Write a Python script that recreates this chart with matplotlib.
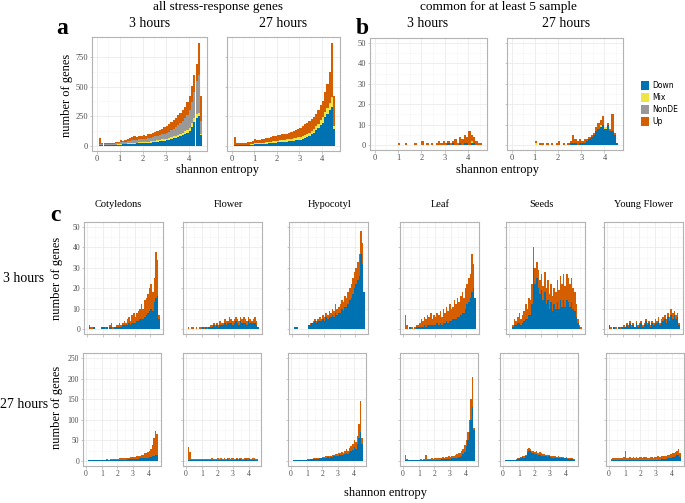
import numpy as np
import matplotlib
matplotlib.use("Agg")
import matplotlib.pyplot as plt
from matplotlib.patches import Patch

plt.rcParams['font.family'] = ['Liberation Serif', 'DejaVu Serif']

# histogram bins: 45 bins of width 0.1 starting at entropy 0.1
bin_lo = 0.1
bin_w = 0.1
n_bins = 45

# ---- panel a: all stress-response genes ----
a3_down = [4, 3, 3, 4, 4, 5, 5, 6, 7, 9, 10, 11, 12, 14, 15,
           17, 18, 19, 20, 21, 22, 24, 26, 28, 30, 33, 36, 39, 42, 45,
           50, 55, 62, 68, 74, 82, 90, 98, 110, 125, 160, 200, 235, 250, 90]
a3_mix = [2, 2, 2, 2, 2, 3, 3, 3, 4, 5, 5, 6, 6, 7, 7,
          8, 8, 8, 9, 9, 9, 10, 10, 11, 11, 12, 12, 13, 14, 14,
          15, 15, 16, 17, 18, 19, 20, 22, 25, 28, 29, 30, 30, 28, 10]
a3_nonde = [10, 6, 6, 6, 7, 7, 8, 9, 10, 14, 14, 16, 18, 20, 22,
            25, 24, 26, 26, 29, 28, 30, 32, 34, 36, 38, 40, 42, 44, 46,
            52, 58, 64, 72, 80, 88, 98, 110, 125, 150, 180, 220, 280, 320, 110]
a3_up = [44, 9, 7, 8, 9, 5, 9, 10, 9, 17, 13, 17, 19, 24, 26,
         30, 25, 29, 25, 29, 26, 31, 32, 32, 38, 37, 42, 46, 55, 60,
         63, 72, 73, 78, 83, 86, 92, 100, 110, 117, 140, 150, 145, 272, 210]

a27_down = [3, 3, 3, 4, 4, 5, 5, 6, 8, 12, 12, 13, 14, 15, 17,
            19, 21, 23, 25, 27, 28, 30, 32, 34, 36, 38, 40, 43, 46, 50,
            55, 62, 72, 82, 95, 110, 130, 150, 175, 195, 240, 270, 300, 330, 140]
a27_mix = [4, 3, 3, 3, 3, 4, 4, 5, 5, 6, 7, 8, 9, 10, 10,
           11, 12, 13, 14, 15, 16, 17, 17, 18, 19, 20, 21, 22, 23, 23,
           24, 25, 26, 28, 29, 31, 33, 36, 40, 43, 45, 50, 60, 85, 30]
a27_nonde = [0, 0, 0, 0, 0, 0, 0, 0, 0, 0, 0, 0, 0, 0, 0,
             0, 0, 0, 0, 0, 0, 0, 0, 0, 0, 0, 0, 0, 0, 0,
             0, 0, 0, 0, 0, 0, 0, 0, 0, 0, 0, 0, 0, 0, 0]
a27_up = [63, 19, 14, 15, 17, 16, 19, 19, 22, 37, 26, 29, 32, 33, 35,
          38, 39, 42, 43, 46, 48, 48, 49, 48, 50, 54, 59, 65, 71, 77,
          86, 93, 97, 100, 101, 104, 102, 114, 125, 142, 165, 200, 260, 455, 250]

# ---- panel b: common for at least 5 samples ----
b3_down = [0, 0, 0, 0, 0, 0, 0, 0, 0, 0, 0, 0, 0, 0, 0,
           0, 0, 0, 0, 0, 0, 0, 0, 0, 0, 0, 0, 0, 0, 0,
           1, 0, 1, 0, 0, 1, 0, 1, 1, 0, 1, 1, 0, 0, 0]
b3_mix = [0, 0, 0, 0, 0, 0, 0, 0, 0, 0, 0, 0, 0, 0, 0,
          0, 0, 0, 0, 0, 0, 0, 0, 0, 0, 0, 0, 0, 0, 0,
          0, 0, 0, 0, 0, 0, 0, 0, 0, 0, 1, 0, 0, 0, 0]
b3_up = [0, 0, 0, 0, 0, 0, 0, 0, 0, 1, 0, 0, 1, 0, 0,
         0, 1, 0, 0, 2, 0, 1, 0, 1, 0, 1, 2, 1, 2, 1,
         1, 1, 1, 3, 1, 3, 3, 4, 3, 7, 3, 3, 2, 1, 1]

b27_down = [0, 0, 0, 0, 0, 0, 0, 0, 0, 0, 0, 0, 0, 0, 0,
            0, 0, 0, 0, 0, 0, 0, 0, 0, 1, 1, 1, 0, 1, 1,
            1, 2, 3, 4, 5, 7, 8, 9, 10, 8, 10, 7, 7, 5, 1]
b27_mix = [0, 0, 0, 0, 0, 0, 0, 0, 0, 1, 0, 0, 0, 0, 0,
           0, 0, 0, 0, 0, 0, 0, 0, 0, 0, 0, 0, 0, 0, 0,
           0, 0, 0, 0, 0, 0, 0, 1, 0, 1, 0, 0, 0, 0, 0]
b27_up = [0, 0, 0, 0, 0, 0, 0, 0, 0, 1, 0, 1, 1, 0, 1,
          0, 1, 0, 1, 2, 0, 1, 0, 1, 1, 4, 2, 2, 2, 1,
          2, 1, 1, 1, 1, 2, 3, 2, 4, 0, 1, 1, 8, 1, 0]

# ---- panel c: per tissue, 3 hours ----
cot3_down = [1, 0, 0, 1, 0, 0, 0, 0, 1, 1, 0, 1, 0, 1, 1,
             0, 1, 1, 1, 1, 1, 2, 2, 2, 2, 3, 2, 3, 3, 3,
             4, 4, 5, 5, 5, 6, 7, 8, 9, 10, 9, 13, 15, 16, 5]
cot3_up = [1, 1, 1, 0, 0, 0, 0, 0, 0, 0, 1, 0, 0, 1, 2,
           1, 0, 1, 1, 2, 1, 1, 2, 1, 3, 3, 2, 4, 5, 3,
           4, 5, 5, 7, 5, 8, 8, 9, 11, 12, 9, 12, 23, 18, 2]
fl3_down = [0, 0, 0, 0, 0, 0, 0, 0, 0, 1, 0, 1, 0, 1, 1,
            1, 2, 1, 2, 1, 2, 2, 2, 3, 2, 3, 3, 3, 2, 3,
            4, 3, 2, 4, 3, 3, 3, 2, 4, 3, 3, 3, 3, 2, 1]
fl3_up = [1, 0, 1, 1, 0, 1, 0, 1, 1, 0, 1, 0, 1, 0, 1,
          1, 1, 1, 1, 1, 2, 1, 1, 2, 2, 1, 3, 2, 2, 2,
          2, 2, 2, 2, 2, 3, 2, 2, 2, 2, 1, 2, 3, 2, 0]
hyp3_down = [1, 1, 1, 0, 0, 0, 0, 0, 0, 2, 2, 3, 3, 4, 3,
             4, 4, 4, 5, 4, 6, 5, 6, 6, 7, 6, 8, 7, 8, 8,
             10, 9, 11, 11, 12, 14, 15, 17, 20, 22, 24, 26, 37, 32, 18]
hyp3_up = [0, 0, 0, 0, 0, 0, 0, 0, 0, 0, 1, 0, 1, 1, 1,
           1, 2, 1, 2, 2, 2, 2, 3, 2, 3, 3, 4, 3, 3, 4,
           4, 4, 5, 4, 6, 6, 7, 8, 8, 8, 9, 11, 11, 10, 0]
leaf3_down = [0, 0, 0, 1, 0, 0, 0, 1, 1, 1, 1, 1, 2, 1, 2,
              2, 2, 2, 2, 2, 3, 2, 3, 2, 3, 3, 4, 3, 4, 4,
              5, 5, 5, 6, 6, 7, 8, 8, 10, 12, 13, 15, 18, 20, 15]
leaf3_up = [7, 2, 0, 0, 1, 0, 1, 1, 1, 2, 4, 3, 4, 4, 5,
            4, 6, 3, 5, 4, 5, 5, 6, 4, 7, 5, 7, 6, 8, 6,
            6, 9, 7, 9, 7, 9, 10, 7, 10, 10, 12, 12, 19, 12, 0]
seeds3_down = [0, 1, 2, 2, 3, 3, 2, 3, 4, 5, 5, 7, 7, 12, 30,
               22, 25, 20, 17, 19, 14, 18, 12, 14, 10, 13, 9, 12, 10, 13,
               10, 14, 11, 14, 11, 14, 13, 11, 13, 10, 9, 6, 3, 1, 0]
seeds3_up = [0, 1, 3, 2, 3, 5, 3, 4, 5, 7, 5, 8, 7, 10, 10,
             8, 8, 9, 7, 8, 7, 10, 8, 10, 7, 9, 7, 8, 8, 11,
             9, 12, 11, 13, 10, 13, 12, 11, 12, 10, 9, 6, 2, 1, 1]
yf3_down = [2, 0, 0, 1, 0, 0, 1, 0, 1, 1, 1, 2, 1, 3, 1,
            2, 1, 3, 1, 2, 3, 1, 2, 4, 2, 3, 1, 3, 2, 3,
            3, 4, 2, 3, 4, 5, 3, 6, 4, 7, 5, 7, 5, 6, 2]
yf3_up = [0, 1, 0, 0, 1, 0, 0, 1, 0, 1, 0, 1, 1, 1, 1,
          1, 0, 1, 1, 1, 1, 1, 1, 1, 1, 1, 1, 1, 1, 2,
          1, 2, 1, 2, 2, 2, 2, 2, 2, 3, 3, 2, 2, 2, 1]

# ---- panel c: per tissue, 27 hours ----
cot27_down = [1, 1, 1, 1, 1, 1, 1, 1, 1, 1, 1, 1, 2, 1, 2,
              2, 2, 2, 2, 2, 3, 3, 3, 3, 3, 4, 4, 4, 4, 5,
              5, 5, 5, 6, 6, 7, 7, 8, 8, 9, 10, 11, 12, 15, 14]
cot27_up = [0, 0, 1, 0, 1, 1, 1, 2, 1, 2, 2, 2, 2, 2, 2,
            2, 2, 3, 3, 3, 3, 3, 4, 3, 4, 4, 4, 5, 5, 5,
            5, 7, 6, 7, 8, 8, 11, 12, 14, 16, 20, 27, 43, 57, 51]
fl27_down = [2, 2, 2, 2, 2, 3, 2, 3, 2, 3, 3, 2, 3, 2, 3,
             3, 3, 2, 3, 3, 3, 3, 3, 3, 3, 4, 3, 3, 3, 3,
             3, 4, 3, 4, 3, 3, 3, 4, 3, 4, 3, 3, 3, 3, 3]
fl27_up = [31, 20, 3, 2, 2, 2, 2, 2, 2, 2, 2, 2, 2, 2, 2,
           3, 2, 2, 2, 3, 2, 3, 2, 3, 2, 3, 3, 2, 3, 3,
           2, 2, 2, 3, 3, 2, 3, 3, 3, 2, 2, 3, 3, 2, 2]
hyp27_down = [1, 1, 1, 1, 1, 2, 2, 2, 2, 3, 3, 4, 4, 4, 5,
              5, 5, 6, 6, 7, 7, 8, 9, 8, 9, 10, 11, 11, 12, 12,
              14, 15, 14, 17, 19, 17, 22, 24, 27, 33, 30, 40, 55, 70, 40]
hyp27_up = [0, 0, 0, 1, 1, 0, 0, 1, 1, 1, 1, 1, 1, 2, 1,
            2, 2, 2, 2, 2, 3, 3, 3, 3, 4, 4, 4, 5, 5, 6,
            6, 7, 6, 8, 9, 8, 10, 11, 13, 17, 15, 20, 35, 75, 15]
leaf27_down = [1, 1, 1, 1, 1, 1, 1, 1, 1, 1, 2, 1, 2, 2, 2,
               2, 2, 3, 2, 3, 3, 3, 3, 4, 4, 4, 5, 4, 5, 5,
               6, 6, 7, 8, 9, 10, 12, 16, 22, 35, 50, 70, 100, 130, 75]
leaf27_up = [14, 3, 1, 0, 1, 1, 2, 1, 2, 2, 2, 2, 2, 13, 2,
             3, 3, 3, 3, 4, 3, 5, 4, 4, 5, 4, 5, 5, 6, 5,
             6, 6, 7, 8, 9, 10, 12, 14, 16, 15, 20, 30, 50, 75, 5]
seeds27_down = [2, 1, 1, 2, 1, 2, 2, 3, 4, 6, 7, 9, 8, 11, 22,
                25, 23, 19, 18, 16, 17, 15, 15, 13, 12, 11, 11, 10, 11, 9,
                8, 8, 8, 7, 8, 6, 7, 6, 6, 6, 5, 5, 5, 4, 3]
seeds27_up = [1, 1, 1, 1, 1, 1, 1, 1, 2, 2, 3, 3, 3, 4, 6,
              7, 7, 6, 6, 6, 6, 5, 6, 5, 5, 5, 4, 4, 4, 4,
              4, 3, 4, 3, 3, 3, 3, 3, 2, 3, 2, 3, 2, 2, 1]
yf27_down = [1, 1, 1, 1, 1, 1, 1, 1, 1, 2, 1, 1, 2, 1, 2,
             1, 2, 1, 2, 2, 1, 2, 2, 1, 2, 2, 2, 2, 2, 3,
             3, 3, 4, 4, 5, 5, 7, 6, 8, 9, 10, 12, 14, 15, 10]
yf27_up = [4, 5, 6, 5, 7, 6, 5, 7, 8, 23, 7, 6, 7, 7, 8,
           6, 7, 7, 8, 7, 7, 8, 7, 6, 6, 8, 7, 6, 7, 7,
           8, 7, 8, 7, 8, 7, 8, 8, 9, 9, 10, 10, 11, 13, 8]

tissues = ["Cotyledons", "Flower", "Hypocotyl", "Leaf", "Seeds", "Young Flower"]
categories = ["Down", "Mix", "NonDE", "Up"]
colors = {"Down": "#0072B2", "Mix": "#F0E442", "NonDE": "#999999", "Up": "#D55E00"}

centres = bin_lo + bin_w * (np.arange(n_bins) + 0.5)

W, H = 685, 503
fig = plt.figure(figsize=(W / 100, H / 100), dpi=100)


def box(l, t, r, b):
    return fig.add_axes([l / W, 1 - b / H, (r - l) / W, (b - t) / H])


def txt(x, y, s, **kw):
    fig.text(x / W, 1 - y / H, s, ha="center", va="center", **kw)


def hist(ax, layers):
    bottom = np.zeros(n_bins)
    for name, vals in layers:
        v = np.array(vals, float)
        ax.bar(centres, v, width=bin_w, bottom=bottom, color=colors[name],
               linewidth=0, zorder=2)
        bottom += v


def style(ax, ylim, yticks, ylabels=True, xlabels=True, fs=6):
    ax.set_xlim(-0.2, 4.8)
    ax.set_ylim(*ylim)
    ax.set_xticks([0, 1, 2, 3, 4])
    ax.set_xticks([0.5, 1.5, 2.5, 3.5, 4.5], minor=True)
    ax.set_yticks(yticks)
    step = yticks[1] - yticks[0]
    ax.set_yticks(np.array(yticks[:-1]) + step / 2, minor=True)
    ax.grid(which="major", color="#EBEBEB", lw=0.6)
    ax.grid(which="minor", color="#F5F5F5", lw=0.4)
    ax.set_axisbelow(True)
    ax.tick_params(which="major", length=1.8, width=0.5, color="#B3B3B3",
                   labelsize=fs, labelcolor="#4D4D4D", pad=1)
    ax.tick_params(which="minor", length=0)
    if not ylabels:
        ax.set_yticklabels([])
    if not xlabels:
        ax.set_xticklabels([])
    for s in ax.spines.values():
        s.set_color("#B3B3B3")
        s.set_linewidth(0.8)


# panel a
ax = box(92, 37, 207, 151)
hist(ax, [("Down", a3_down), ("Mix", a3_mix), ("NonDE", a3_nonde), ("Up", a3_up)])
style(ax, (-46, 920), [0, 250, 500, 750])
ax = box(227, 37, 340, 151)
hist(ax, [("Down", a27_down), ("Mix", a27_mix), ("NonDE", a27_nonde), ("Up", a27_up)])
style(ax, (-46, 920), [0, 250, 500, 750], ylabels=False)

# panel b
ax = box(370, 38, 487, 150)
hist(ax, [("Down", b3_down), ("Mix", b3_mix), ("Up", b3_up)])
style(ax, (-2.5, 52.5), [0, 10, 20, 30, 40, 50])
ax = box(507, 38, 623, 150)
hist(ax, [("Down", b27_down), ("Mix", b27_mix), ("Up", b27_up)])
style(ax, (-2.5, 52.5), [0, 10, 20, 30, 40, 50], ylabels=False)

# panel c
row3 = [(cot3_down, cot3_up), (fl3_down, fl3_up), (hyp3_down, hyp3_up),
        (leaf3_down, leaf3_up), (seeds3_down, seeds3_up), (yf3_down, yf3_up)]
row27 = [(cot27_down, cot27_up), (fl27_down, fl27_up), (hyp27_down, hyp27_up),
         (leaf27_down, leaf27_up), (seeds27_down, seeds27_up), (yf27_down, yf27_up)]
lefts3 = [84, 183, 289, 400, 506, 604]
lefts27 = [83, 183, 288, 400, 500, 606]
title_x = [118, 228, 330, 440, 541, 644]

for i, (d, u) in enumerate(row3):
    ax = box(lefts3[i], 222, lefts3[i] + 79, 334)
    hist(ax, [("Down", d), ("Up", u)])
    style(ax, (-2.5, 52.5), [0, 10, 20, 30, 40, 50], ylabels=(i == 0),
          xlabels=False, fs=5.5)
    txt(title_x[i], 204, tissues[i], fontsize=7.5)

for i, (d, u) in enumerate(row27):
    ax = box(lefts27[i], 353, lefts27[i] + 78, 466)
    hist(ax, [("Down", d), ("Up", u)])
    style(ax, (-12.5, 262.5), [0, 50, 100, 150, 200, 250], ylabels=(i == 0),
          fs=5.5)

# titles and labels
txt(218, 7, "all stress-response genes", fontsize=9.5)
txt(498, 7, "common for at least 5 sample", fontsize=9.5)
txt(150, 24, "3 hours", fontsize=10)
txt(283, 24, "27 hours", fontsize=10)
txt(428, 24, "3 hours", fontsize=10)
txt(566, 24, "27 hours", fontsize=10)
txt(62, 28, "a", fontsize=17, fontweight="bold")
txt(362, 28, "b", fontsize=17, fontweight="bold")
txt(55, 216, "c", fontsize=17, fontweight="bold")
txt(217, 170, "shannon entropy", fontsize=9)
txt(498, 170, "shannon entropy", fontsize=9)
txt(385, 493, "shannon entropy", fontsize=9)
txt(67, 95, "number of genes", fontsize=9, rotation=90)
txt(57, 278, "number of genes", fontsize=9, rotation=90)
txt(57, 407, "number of genes", fontsize=9, rotation=90)
txt(24, 279, "3 hours", fontsize=10)
txt(24, 405, "27 hours", fontsize=10)

handles = [Patch(facecolor=colors[c], edgecolor="none") for c in categories]
fig.legend(handles, categories, loc="upper left",
           bbox_to_anchor=(638 / W, 1 - 78 / H), frameon=False,
           prop={"family": "DejaVu Sans", "size": 5.5},
           handlelength=1.1, handleheight=1.5, labelspacing=0.35,
           handletextpad=0.4, borderaxespad=0)

fig.savefig("out.png", dpi=100)
